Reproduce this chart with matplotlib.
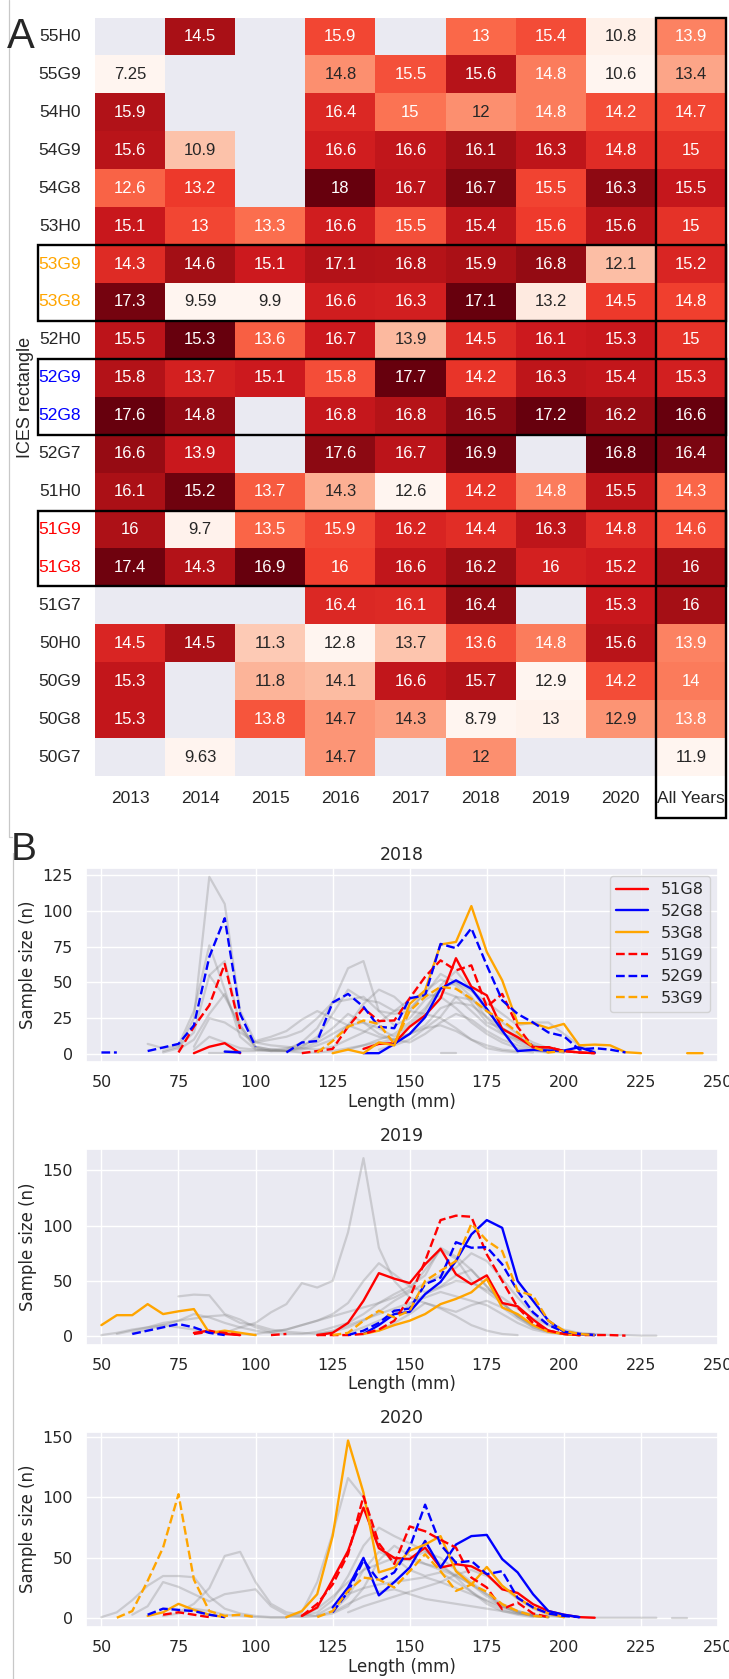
import numpy as np
import pandas as pd
import matplotlib
matplotlib.use('Agg')
import matplotlib.pyplot as plt
from matplotlib.patches import Rectangle
from matplotlib.lines import Line2D
import seaborn as sns

nan = np.nan

# ---- panel A: mean length per ICES rectangle and year ----
rects = ['55H0', '55G9', '54H0', '54G9', '54G8', '53H0', '53G9', '53G8', '52H0',
         '52G9', '52G8', '52G7', '51H0', '51G9', '51G8', '51G7', '50H0', '50G9',
         '50G8', '50G7']
years = ['2013', '2014', '2015', '2016', '2017', '2018', '2019', '2020', 'All Years']

mean_len = [
    [nan, 14.5, nan, 15.9, nan, 13, 15.4, 10.8, 13.9],
    [7.25, nan, nan, 14.8, 15.5, 15.6, 14.8, 10.6, 13.4],
    [15.9, nan, nan, 16.4, 15, 12, 14.8, 14.2, 14.7],
    [15.6, 10.9, nan, 16.6, 16.6, 16.1, 16.3, 14.8, 15],
    [12.6, 13.2, nan, 18, 16.7, 16.7, 15.5, 16.3, 15.5],
    [15.1, 13, 13.3, 16.6, 15.5, 15.4, 15.6, 15.6, 15],
    [14.3, 14.6, 15.1, 17.1, 16.8, 15.9, 16.8, 12.1, 15.2],
    [17.3, 9.59, 9.9, 16.6, 16.3, 17.1, 13.2, 14.5, 14.8],
    [15.5, 15.3, 13.6, 16.7, 13.9, 14.5, 16.1, 15.3, 15],
    [15.8, 13.7, 15.1, 15.8, 17.7, 14.2, 16.3, 15.4, 15.3],
    [17.6, 14.8, nan, 16.8, 16.8, 16.5, 17.2, 16.2, 16.6],
    [16.6, 13.9, nan, 17.6, 16.7, 16.9, nan, 16.8, 16.4],
    [16.1, 15.2, 13.7, 14.3, 12.6, 14.2, 14.8, 15.5, 14.3],
    [16, 9.7, 13.5, 15.9, 16.2, 14.4, 16.3, 14.8, 14.6],
    [17.4, 14.3, 16.9, 16, 16.6, 16.2, 16, 15.2, 16],
    [nan, nan, nan, 16.4, 16.1, 16.4, nan, 15.3, 16],
    [14.5, 14.5, 11.3, 12.8, 13.7, 13.6, 14.8, 15.6, 13.9],
    [15.3, nan, 11.8, 14.1, 16.6, 15.7, 12.9, 14.2, 14],
    [15.3, nan, 13.8, 14.7, 14.3, 8.79, 13, 12.9, 13.8],
    [nan, 9.63, nan, 14.7, nan, 12, nan, nan, 11.9],
]

label_colors = {'53G9': 'orange', '53G8': 'orange', '52G9': 'blue', '52G8': 'blue',
                '51G9': 'red', '51G8': 'red'}
boxed_rows = [(6, 2), (9, 2), (13, 2)]

# ---- panel B: length frequencies, (first length, counts every 5 mm) ----
lengths = np.arange(50, 250, 5)

hl_2018 = {
    '51G8': (80, [0.5, 5, 7.5, 0.5, nan, nan, nan, nan, nan, nan, nan, 3.5, 7, 7.5,
                  19, 27, 39, 67, 47, 41, 17.5, 11.7, 4.7, 4.7, 2, 1, 0.5]),
    '52G8': (90, [1.6, 1, nan, nan, nan, nan, nan, nan, nan, 0.5, 0.5, 7, 14, 25.7,
                  45.6, 51.5, 45.6, 31.6, 16.4, 2, 2.8, 2.3, 2.3, 4.7, 1]),
    '53G8': (125, [0.5, 3, 0.5, 8, 6, 35, 44.5, 76.6, 78.4, 103.5, 71.4, 51.5, 21.5,
                   21.5, 18, 21, 6, 6.5, 6, 1.2, 0.5, nan, nan, 0.5, 0.5]),
    '51G9': (75, [1, 19, 34, 63, 17.5, nan, nan, nan, 0.5, 2, 3.5, 19, 32, 23, 23.4,
                  39, 54, 65.5, 58.5, 62, 33, 42, 19, 4.7, 4.7, 2, 1, 0.5]),
    '52G9': (50, [1, 1, nan, 2, 4.5, 7, 20, 68, 95, 28, 5, nan, 1, 8, 9, 36, 42, 33,
                  19, 18, 39, 41, 77, 74, 88, 62, 37.5, 28, 22, 15, 12.4, 3, 4, 3, 1]),
    '53G9': (120, [1, 9, 19, 23.4, 21, 7, 30, 40, 47, 45.6, 38.6, 30, 23.4, 15, 4.7,
                   1, 2]),
}
gray_2018 = [
    (70, [1, 4, 25, 124, 105, 30, 8, 6, 5, 4, 3, 5, 10, 15, 22, 30, 38, 42, 40, 32,
          22, 14, 8, 4, 2, 1]),
    (65, [7, 4, 6, 30, 76, 45, 12, 3, 2, 2, 3, 6, 10, 20, 35, 45, 40, 30, 28, 25, 18,
          10, 6, 3, 2, 1]),
    (70, [2, 5, 15, 55, 65, 20, 5, 3, 2, 5, 12, 28, 45, 38, 36, 30, 32, 42, 56, 50,
          40, 25, 15, 8, 4, 2, 1]),
    (75, [3, 10, 28, 42, 18, 4, 2, 3, 8, 18, 36, 60, 65, 30, 28, 30, 44, 52, 48, 36,
          22, 18, 12, 6, 3]),
    (80, [5, 25, 22, 15, 8, 10, 12, 16, 25, 36, 38, 40, 30, 20, 25, 38, 44, 40, 30,
          20, 14, 10, 5, 2]),
    (80, [3, 12, 8, 4, 3, 2, 2, 4, 8, 14, 20, 22, 18, 12, 20, 30, 48, 58, 45, 30, 18,
          10, 6, 3, 1]),
    (90, [2, 2, 2, 3, 4, 6, 10, 18, 28, 22, 14, 10, 8, 14, 22, 28, 24, 16, 10, 6, 3, 1]),
    (100, [9, 12, 16, 24, 30, 25, 20, 16, 12, 10, 14, 18, 20, 16, 10, 4, 2, 1]),
    (130, [3, 6, 10, 14, 22, 32, 46, 50, 44, 36, 28, 20, 22, 22, 14, 6, 2]),
    (140, [3, 6, 10, 18, 26, 40, 38, 30, 22, 14, 8, 4, 2, 1]),
    (85, [55, 40, 20, 5, 3, 2, 1, 1, 2, 4, 6, 8, 10, 14, 20, 32, 36, 34, 26, 18, 12,
          6, 3, 1]),
    (85, [0.5, 0.5, 0.5]),
    (160, [0.5, 0.5]),
]

hl_2019 = {
    '51G8': (80, [3, 5, 2, 1, nan, nan, nan, nan, 1, 3, 12, 32, 57, 52, 48, 65, 79,
                  56, 47, 55, 30, 27, 15, 5, 2, 1]),
    '52G8': (135, [2, 10, 20, 22, 38, 49, 68, 92, 105, 98, 50, 32, 14, 4, 2, 1]),
    '53G8': (50, [10, 19, 19, 29, 20, 22.5, 24.5, 3, 5, 3, 1, nan, nan, nan, nan, nan,
                  nan, 2, 5, 10, 14, 20, 29, 33.7, 39.7, 51.8, 26, 20, 10, 4, 2, 1]),
    '51G9': (80, [2, 4, 3, 1, nan, 1, 2, nan, 1, 1, 1, 2, 6, 14, 35, 68, 105, 109, 108,
                  74, 50, 26, 12, 5, 2, 1, 1, 1, 0.5]),
    '52G9': (60, [2, 5, 8, 11, 8, 3, 1, nan, nan, nan, nan, nan, nan, nan, 1, 5, 12,
                  23, 25, 47, 53, 85, 80, 80.5, 65, 41, 21.6, 10, 4, 2, 1]),
    '53G9': (125, [1, 3, 14, 23, 17, 23, 50, 59, 68, 101.6, 86.5, 77, 41, 36.7, 14, 5,
                   2, 1]),
}
gray_2019 = [
    (90, [3, 8, 12, 21.6, 29, 48, 44, 50, 94, 161, 80, 50, 35, 30, 25, 18, 10, 5, 2, 1]),
    (75, [36, 37.6, 37, 20, 15, 8, 4, 6, 10, 14, 20, 30, 50, 66, 56, 45, 40, 45, 55,
          60, 45, 30, 18, 10, 5, 2, 1]),
    (55, [2, 5, 8, 12, 14, 16, 18, 19, 12, 10, 6, 4, 3, 2, 4, 8, 14, 22, 32, 40, 48,
          55, 62, 75, 68, 52, 35, 20, 10, 5, 2, 1]),
    (60, [3, 6, 10, 14, 20, 17, 12, 8, 5, 3, 2, 2, 4, 8, 12, 20, 30, 38, 45, 55, 80,
          72, 60, 45, 30, 18, 8, 4, 2, 1]),
    (100, [2, 4, 6, 10, 14, 18, 22, 26, 30, 35, 42, 60, 78, 70, 50, 40, 30, 18, 10, 5, 2]),
    (120, [2, 5, 10, 15, 20, 25, 30, 35, 40, 36, 32, 28, 20, 12, 6, 3, 2, 1]),
    (130, [3, 8, 14, 20, 28, 38, 44, 50, 48, 42, 35, 25, 16, 10, 6, 3, 2, 1, 1, 0.5,
           0.5]),
    (50, [1, 3, 6, 8, 10, 8, 6, 4, 3, 2, 1]),
    (140, [5, 12, 20, 30, 26, 22, 28, 32, 26, 16, 8, 4, 2, 1]),
]

hl_2020 = {
    '51G8': (115, [2, 9, 32, 55.8, 91.6, 58, 50, 49, 58.5, 42, 44.8, 43, 36.5, 24, 21,
                   11.7, 6, 3, 1, 0.5]),
    '52G8': (125, [9, 25.5, 50, 19, 30, 42, 64, 42, 61, 68, 69, 49, 38, 20, 6, 3, 1]),
    '53G8': (65, [2, 5, 12, 7, 3, 1, nan, nan, nan, 1, 6, 20, 68, 147, 104, 38, 42, 56,
                  61, 68, 39, 28, 42.5, 27, 17, 9, 4, 1]),
    '51G9': (70, [3, 5, 3, 1, nan, nan, nan, nan, nan, 2, 12, 28, 53, 101, 62, 45, 76,
                  72, 65, 58.5, 33.7, 25.5, 7.6, 13, 4, 1]),
    '52G9': (65, [3, 8, 7, 6, 3, 1, nan, nan, nan, nan, nan, nan, 5, 22, 48, 31, 38,
                  58.5, 94, 61, 46, 47.5, 36.5, 39, 17, 9, 4, 2, 1]),
    '53G9': (55, [0.5, 6, 31, 58.5, 102.6, 32, 6, 2, 3, 1, nan, nan, nan, 1, 6, 22.7,
                  33.7, 32, 25.5, 39, 53, 39, 22.7, 28, 22, 11.7, 6, 2, 1]),
}
gray_2020 = [
    (110, [1, 5, 30, 70, 116, 100, 60, 45, 50, 55, 50, 40, 30, 20, 10, 5, 2, 1]),
    (50, [1, 5, 15, 27, 35, 35, 34, 18, 8, 4, 2, 1, 1, 2, 5, 15, 35, 60, 75, 68, 62,
          56, 45, 34, 22, 12, 6, 3, 1]),
    (75, [5, 12, 25, 51.6, 55, 30, 12, 5, 3, 2, 4, 10, 25, 48, 60, 52, 45, 40, 35, 28,
          20, 12, 6, 3, 1]),
    (60, [3, 10, 30, 26, 20, 14, 20, 22, 24, 10, 3, 1, 2, 6, 18, 40, 55, 50, 48, 45,
          42, 36, 28, 18, 10, 5, 2, 1]),
    (115, [2, 8, 18, 30, 40, 45, 50, 40, 35, 38, 30, 22, 14, 8, 4, 2, 1]),
    (120, [3, 10, 20, 25, 28, 30, 32, 34, 30, 25, 20, 15, 10, 6, 3, 1]),
    (125, [5, 12, 18, 22, 24, 20, 16, 14, 12, 10, 8, 6, 4, 3, 2, 1, 1, 0.5, 0.5, 0.5,
           0.5, 0.5]),
    (130, [5, 10, 14, 18, 22, 26, 30, 36, 40, 35, 26, 16, 8, 3, 1]),
    (70, [2, 4, 8, 6, 3, 2, 1, 0.5, 0.5]),
    (235, [0.5, 0.5]),
]

panels = [('2018', hl_2018, gray_2018, range(0, 126, 25)),
          ('2019', hl_2019, gray_2019, range(0, 151, 50)),
          ('2020', hl_2020, gray_2020, range(0, 151, 50))]
line_order = ['51G8', '52G8', '53G8', '51G9', '52G9', '53G9']


def on_grid(start, vals):
    arr = np.full(len(lengths), nan)
    i = (start - 50) // 5
    arr[i:i + len(vals)] = vals
    return arr


sns.set_theme(style='darkgrid')
plt.rcParams['font.family'] = ['DejaVu Sans']
HM_FONT = ['Liberation Sans', 'DejaVu Sans']

W, H = 729, 1679
fig = plt.figure(figsize=(W / 100, H / 100), dpi=100)


def px(x, y):
    return x / W, 1 - y / H


# heatmap, colour scaled within each year column
df = pd.DataFrame(mean_len, index=rects, columns=years)
norm = (df - df.min()) / (df.max() - df.min())

ax = fig.add_axes([95 / W, 1 - 776 / H, 631 / W, 758.5 / H])
sns.heatmap(norm, annot=df, fmt='.3g', cmap='Reds', cbar=False, ax=ax,
            annot_kws={'size': 12, 'family': HM_FONT},
            xticklabels=years, yticklabels=rects)
ax.grid(False)
ax.set_ylabel('')
ax.tick_params(axis='y', length=0, pad=10, labelsize=12.5, rotation=0)
ax.tick_params(axis='x', length=0, pad=11, labelsize=12.5, rotation=0)
for t in ax.get_yticklabels():
    t.set_color(label_colors.get(t.get_text(), '.15'))
    t.set_family(HM_FONT)
for t in ax.get_xticklabels():
    t.set_family(HM_FONT)

for r0, n in boxed_rows:
    ax.add_patch(Rectangle((-0.82, r0), 9.82, n, fill=False, ec='black', lw=1.7,
                           clip_on=False, zorder=5))
ax.add_patch(Rectangle((8, 0), 1, 21.1, fill=False, ec='black', lw=1.7,
                       clip_on=False, zorder=5))

fig.text(*px(26, 397), 'ICES rectangle', rotation=90, ha='center', va='center',
         fontsize=13, color='.15', family=HM_FONT)
fig.text(*px(7, 48), 'A', fontsize=30, ha='left', va='baseline', family=HM_FONT)
fig.text(*px(11, 860), 'B', fontsize=28, ha='left', va='baseline', family=HM_FONT)

# thin panel borders
fig.add_artist(Line2D([px(8.5, 0)[0], px(8.5, 837)[0], px(12, 837)[0]],
                      [px(8.5, 0)[1], px(8.5, 837)[1], px(12, 837)[1]],
                      color='#c8c8c8', lw=0.9))
fig.add_artist(Line2D([px(12.7, 853)[0]] * 2, [px(12.7, 853)[1], px(12.7, 1679)[1]],
                      color='#c8c8c8', lw=0.9))

# length frequency panels
colors = {'51': 'red', '52': 'blue', '53': 'orange'}
tops = [868, 1149.3, 1431.7]
bottoms = [1062, 1344.5, 1626.6]

for (title, hl, gray, yt), top, bot in zip(panels, tops, bottoms):
    lax = fig.add_axes([86 / W, 1 - bot / H, 632 / W, (bot - top) / H])
    for start, vals in gray:
        lax.plot(lengths, on_grid(start, vals), color='gray', alpha=0.3, lw=1.6)
    for name in line_order:
        start, vals = hl[name]
        ls = '-' if name.endswith('G8') else '--'
        lax.plot(lengths, on_grid(start, vals), color=colors[name[:2]], ls=ls,
                 lw=1.7, label=name)
    lax.set_xlim(45, 250)
    lax.set_xticks(range(50, 251, 25))
    lax.set_yticks(list(yt))
    lax.set_title(title, fontsize=12.5)
    lax.set_xlabel('Length (mm)', fontsize=12, labelpad=2)
    lax.set_ylabel('Sample size (n)', fontsize=12)
    lax.tick_params(labelsize=11.5)
    if title == '2018':
        lax.legend(loc='upper right', fontsize=11.5, labelspacing=0.42)

fig.savefig('out.png', dpi=100)
